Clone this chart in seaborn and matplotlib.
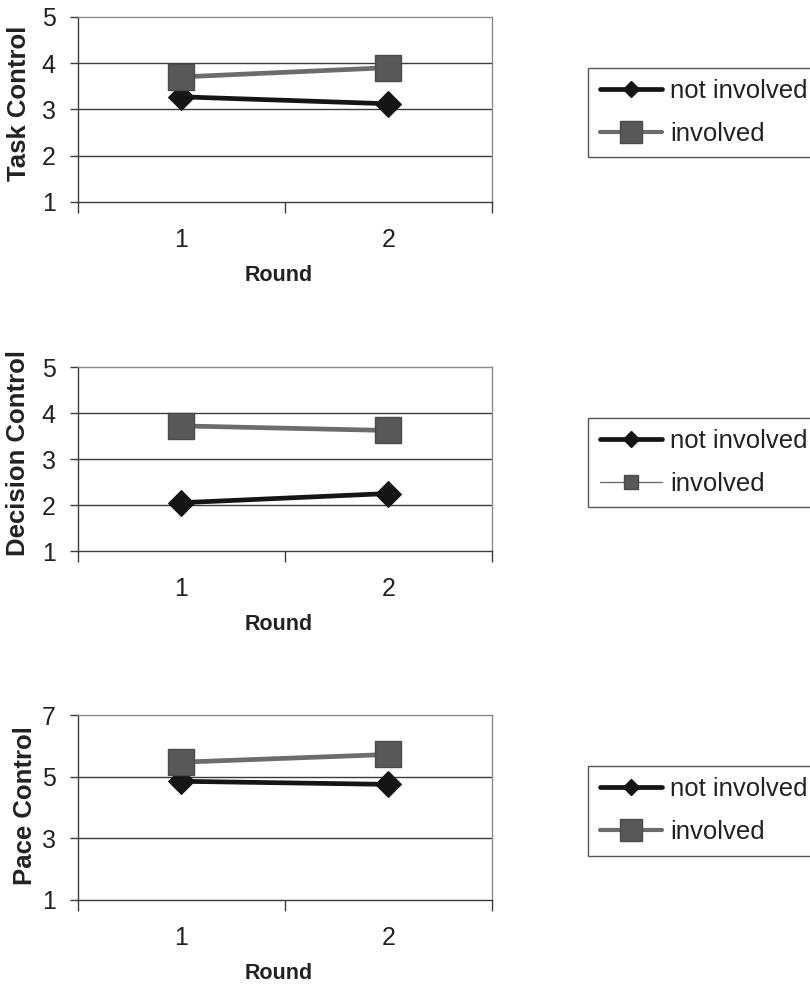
import matplotlib
matplotlib.use("Agg")
import matplotlib.pyplot as plt
from matplotlib.lines import Line2D
import pandas as pd
import seaborn as sns

# values
rounds = [1, 2]
groups = ["not involved", "involved"]
task_not_involved = [3.27, 3.12]
task_involved = [3.70, 3.90]
decision_not_involved = [2.05, 2.25]
decision_involved = [3.72, 3.62]
pace_not_involved = [4.85, 4.75]
pace_involved = [5.47, 5.72]

panel_labels = ["Task Control", "Decision Control", "Pace Control"]
panel_yticks = [[1, 2, 3, 4, 5], [1, 2, 3, 4, 5], [1, 3, 5, 7]]

sns.set_style("white")
plt.rcParams["font.family"] = ["Liberation Sans", "DejaVu Sans"]

NOT_COLOR = "#151515"
INV_LINE = "#6c6c6c"
INV_FILL = "#585858"
GRID = "#3c3c3c"
TEXT = "#222222"


def make_df(not_inv, inv):
    return pd.DataFrame({
        "Round": rounds * 2,
        "value": list(not_inv) + list(inv),
        "group": [groups[0]] * len(rounds) + [groups[1]] * len(rounds),
    })


panel_data = [
    make_df(task_not_involved, task_involved),
    make_df(decision_not_involved, decision_involved),
    make_df(pace_not_involved, pace_involved),
]

fig = plt.figure(figsize=(8.1, 9.85), dpi=100)
boxes = [
    (0.0963, 0.795, 0.511, 0.188),
    (0.0963, 0.4406, 0.511, 0.1868),
    (0.0963, 0.0863, 0.511, 0.1878),
]
ylabel_pos = [(-0.113, 0.53), (-0.115, 0.53), (-0.10, 0.51)]
legend_inv_lw = [3.0, 1.0, 3.0]
legend_inv_ms = [16, 9.5, 16]

for i, df in enumerate(panel_data):
    ax = fig.add_axes(boxes[i])
    ticks = panel_yticks[i]
    ax.set_ylim(ticks[0], ticks[-1])
    ax.set_yticks(ticks)
    for t in ticks[1:-1]:
        ax.axhline(t, color=GRID, lw=1.0, zorder=1)

    sub = df[df["group"] == groups[0]]
    sns.lineplot(data=sub, x="Round", y="value", ax=ax, color=NOT_COLOR,
                 lw=3.4, marker="D", markersize=13.5, markerfacecolor=NOT_COLOR,
                 markeredgecolor=NOT_COLOR, legend=False, zorder=3)
    sub = df[df["group"] == groups[1]]
    sns.lineplot(data=sub, x="Round", y="value", ax=ax, color=INV_LINE,
                 lw=3.4, marker="s", markersize=19, markerfacecolor=INV_FILL,
                 markeredgecolor="#4a4a4a", markeredgewidth=1, legend=False,
                 zorder=4)

    ax.set_xlim(rounds[0] - 0.5, rounds[-1] + 0.5)
    ax.set_xticks(rounds)
    ax.set_xticklabels([str(r) for r in rounds])
    ax.set_xticks([rounds[0] - 0.5, (rounds[0] + rounds[-1]) / 2, rounds[-1] + 0.5],
                  minor=True)
    ax.tick_params(axis="x", which="major", length=0, pad=19, labelsize=18,
                   labelcolor=TEXT)
    ax.tick_params(axis="x", which="minor", length=8, width=1, color=GRID,
                   direction="out", bottom=True)
    ax.tick_params(axis="y", length=6, width=1, color=GRID, direction="out",
                   pad=10, labelsize=18, labelcolor=TEXT, left=True)

    ax.set_xlabel("Round", fontsize=15.5, fontweight="bold", color=TEXT)
    ax.xaxis.label.set_va("center")
    ax.xaxis.set_label_coords(0.485, -0.4)
    ax.set_ylabel(panel_labels[i], fontsize=18.5, fontweight="bold", color=TEXT)
    ax.yaxis.set_label_coords(*ylabel_pos[i])

    ax.spines["left"].set_color(GRID)
    ax.spines["bottom"].set_color(GRID)
    ax.spines["right"].set_color("#8a8a8a")
    ax.spines["top"].set_color("#8a8a8a")
    ax.spines["top"].set_linestyle((0, (1, 1)))
    for s in ax.spines.values():
        s.set_linewidth(1.0)

    handles = [
        Line2D([], [], color=NOT_COLOR, lw=3.4, marker="D", markersize=8.5,
               markerfacecolor=NOT_COLOR, markeredgecolor=NOT_COLOR),
        Line2D([], [], color=INV_LINE, lw=legend_inv_lw[i], marker="s",
               markersize=legend_inv_ms[i], markerfacecolor=INV_FILL,
               markeredgecolor="#4a4a4a"),
    ]
    leg = ax.legend(handles, groups, loc="upper left", bbox_to_anchor=(1.232, 0.725),
                    borderaxespad=0, fontsize=18.5, frameon=True, fancybox=False,
                    framealpha=1, edgecolor="#555555", borderpad=0.45,
                    labelspacing=0.72, handlelength=2.45, handletextpad=0.3)
    leg.get_frame().set_linewidth(1.0)
    for t in leg.get_texts():
        t.set_color(TEXT)

fig.savefig("out.png", dpi=100)
plt.close(fig)
